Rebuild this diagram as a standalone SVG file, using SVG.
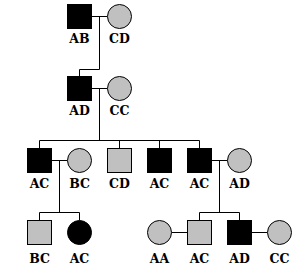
<svg xmlns="http://www.w3.org/2000/svg" width="296" height="272" viewBox="0 0 296 272">
<style>
.aff{fill:#000;stroke:#000;stroke-width:1}
.un{fill:#c0c0c0;stroke:#000;stroke-width:1}
.ln{fill:none;stroke:#000;stroke-width:1}
text{font-family:"DejaVu Serif","Liberation Serif",serif;font-weight:bold;font-size:12.5px;text-anchor:middle;fill:#000}
</style>
<rect width="296" height="272" fill="#fff"/>
<g id="connectors" class="ln">
<path d="M91.5 16.5H107.5M99.5 16.5V69.5H79.5V76.5"/>
<path d="M91.5 88.5H107.5M99.5 88.5V140.5M39.5 140.5H199.5M39.5 140.5V148.5M119.5 140.5V148.5M159.5 140.5V148.5M199.5 140.5V148.5"/>
<path d="M51.5 160.5H67.5M59.5 160.5V212.5M39.5 212.5H79.5M39.5 212.5V220.5M79.5 212.5V220.5"/>
<path d="M211.5 160.5H227.5M219.5 160.5V212.5M199.5 212.5H239.5M199.5 212.5V220.5M239.5 212.5V220.5"/>
<path d="M171.5 232.5H187.5M251.5 232.5H267.5"/>
</g>
<g id="n_AB"><rect class="aff" x="67.5" y="4.5" width="24" height="24"/><text x="79.5" y="42.5">AB</text></g>
<g id="n_CD"><circle class="un" cx="119.5" cy="16.5" r="12"/><text x="119.5" y="42.5">CD</text></g>
<g id="n_AD"><rect class="aff" x="67.5" y="76.5" width="24" height="24"/><text x="79.5" y="114.5">AD</text></g>
<g id="n_CC"><circle class="un" cx="119.5" cy="88.5" r="12"/><text x="119.5" y="114.5">CC</text></g>
<g id="n_AC1"><rect class="aff" x="27.5" y="148.5" width="24" height="24"/><text x="39.5" y="187.5">AC</text></g>
<g id="n_BC1"><circle class="un" cx="79.5" cy="160.5" r="12"/><text x="79.5" y="187.5">BC</text></g>
<g id="n_CD2"><rect class="un" x="107.5" y="148.5" width="24" height="24"/><text x="119.5" y="187.5">CD</text></g>
<g id="n_AC2"><rect class="aff" x="147.5" y="148.5" width="24" height="24"/><text x="159.5" y="187.5">AC</text></g>
<g id="n_AC3"><rect class="aff" x="187.5" y="148.5" width="24" height="24"/><text x="199.5" y="187.5">AC</text></g>
<g id="n_AD2"><circle class="un" cx="239.5" cy="160.5" r="12"/><text x="239.5" y="187.5">AD</text></g>
<g id="n_BC2"><rect class="un" x="27.5" y="220.5" width="24" height="24"/><text x="39.5" y="262.5">BC</text></g>
<g id="n_AC4"><circle class="aff" cx="79.5" cy="232.5" r="12"/><text x="79.5" y="262.5">AC</text></g>
<g id="n_AA"><circle class="un" cx="159.5" cy="232.5" r="12"/><text x="159.5" y="262.5">AA</text></g>
<g id="n_AC5"><rect class="un" x="187.5" y="220.5" width="24" height="24"/><text x="199.5" y="262.5">AC</text></g>
<g id="n_AD3"><rect class="aff" x="227.5" y="220.5" width="24" height="24"/><text x="239.5" y="262.5">AD</text></g>
<g id="n_CC2"><circle class="un" cx="279.5" cy="232.5" r="12"/><text x="279.5" y="262.5">CC</text></g>
</svg>
